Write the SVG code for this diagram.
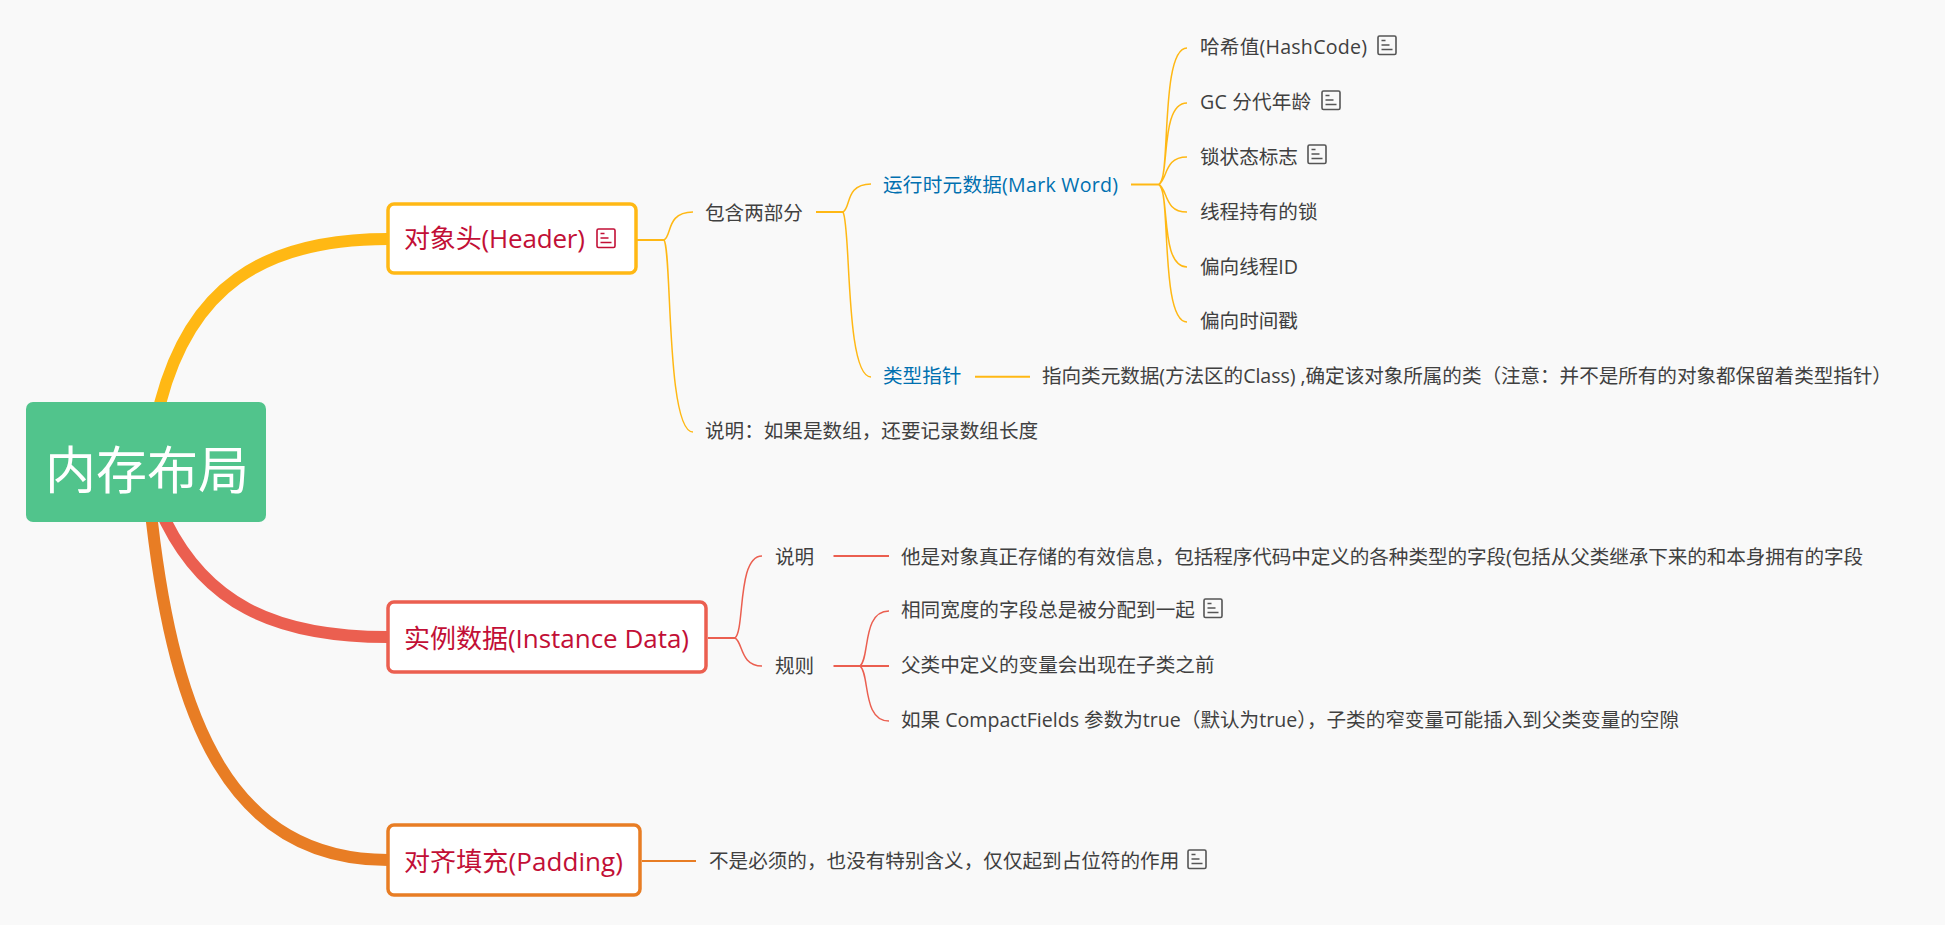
<svg xmlns="http://www.w3.org/2000/svg" width="1945" height="925" viewBox="0 0 1945 925">
<style>
text{font-family:"Open Sans","Noto Sans CJK SC",sans-serif;dominant-baseline:central;fill:#404040;font-size:19.6px}
.main{font-size:26px;fill:#C20F36}
.blue{fill:#0070B0}
.root{font-size:51px;fill:#fff}
.c{fill:none;stroke-linecap:butt}
.y{stroke:#FFB814}.r{stroke:#EB5F50}.o{stroke:#E87D24}
.thin{stroke-width:1.5}.mid{stroke-width:2}.thick{stroke-width:12}
.box{fill:#fff;stroke-width:3.5}
.ic{fill:none;stroke:#555;stroke-width:1.6}
.icr{fill:none;stroke:#C20F36;stroke-width:1.6}
</style>
<defs>
<g id="note"><rect x="1" y="1" width="18" height="18.5" rx="1.5"/><path d="M4.5 5.5h4M4.500 10h8M4.500 14.500h11"/></g>
</defs>
<rect width="1945" height="925" fill="#F9F9F9"/>
<g id="connectors">
<path class="c y thick" d="M158 412L160.500 402C190 290 260 239 388 239"/>
<path class="c r thick" d="M161 512L166 522C205 600 270 637 388 637"/>
<path class="c o thick" d="M151 512L152 522C175 720 230 860 388 860"/>
<path class="c y mid" d="M637 240H664"/>
<path class="c y thin" d="M664 240C672 236 666 212 693 212M664 240C672 250 666 432 693 432"/>
<path class="c y mid" d="M816 212H843"/>
<path class="c y thin" d="M843 212C851 208 845 184 871 184M843 212C851 225 845 377 871 377"/>
<path class="c y mid" d="M1131 184.500H1159"/>
<path class="c y thin" d="M1159 184.500C1171 180 1160 48 1187 48M1159 184.500C1170 175 1160 103 1187 103M1159 184.500C1168 178 1164 157 1187 157M1159 184.500C1168 190 1164 212 1187 212M1159 184.500C1170 195 1160 267 1187 267M1159 184.500C1171 190 1160 322 1187 322"/>
<path class="c y mid" d="M975 376.700H1030"/>
<path class="c r mid" d="M708 638H735"/>
<path class="c r thin" d="M735 638C745 630 737 556 762 556M735 638C743 642 740 666 762 666"/>
<path class="c r mid" d="M833.500 556H889"/>
<path class="c r mid" d="M833.500 666H889"/>
<path class="c r thin" d="M860 666C870 658 862 611 889 611M860 666C870 674 862 721 889 721"/>
<path class="c o mid" d="M642 861H696"/>
</g>
<g id="root"><rect x="26" y="402" width="240" height="120" rx="7" fill="#51C48C"/><text class="root" x="45" y="469" textLength="204">内存布局</text></g>
<g id="header"><rect class="box y" x="388" y="204" width="248" height="69" rx="6"/><text class="main" x="404" y="238" textLength="181">对象头(Header)</text><use href="#note" class="icr" x="596" y="228"/></g>
<g id="instance"><rect class="box r" x="388" y="602" width="318" height="70" rx="6"/><text class="main" x="404" y="638" textLength="285">实例数据(Instance Data)</text></g>
<g id="padding"><rect class="box o" x="388" y="825" width="252" height="70" rx="6"/><text class="main" x="404" y="861" textLength="219">对齐填充(Padding)</text></g>
<g id="n-two"><text x="705" y="212">包含两部分</text></g>
<g id="n-array"><text x="705" y="430">说明：如果是数组，还要记录数组长度</text></g>
<g id="n-mark"><text class="blue" x="883" y="184" textLength="235">运行时元数据(Mark Word)</text></g>
<g id="n-type"><text class="blue" x="883" y="375">类型指针</text></g>
<g id="n-typed"><text x="1042" y="375" letter-spacing="-0.05">指向类元数据(方法区的Class) ,确定该对象所属的类（注意：并不是所有的对象都保留着类型指针）</text></g>
<g id="n-hash"><text x="1200" y="46" textLength="167">哈希值(HashCode)</text><use href="#note" class="ic" x="1377" y="35"/></g>
<g id="n-gc"><text x="1200" y="101" textLength="111">GC 分代年龄</text><use href="#note" class="ic" x="1321" y="90"/></g>
<g id="n-lock"><text x="1200" y="156">锁状态标志</text><use href="#note" class="ic" x="1307" y="144"/></g>
<g id="n-hold"><text x="1200" y="211">线程持有的锁</text></g>
<g id="n-tid"><text x="1200" y="266" textLength="98">偏向线程ID</text></g>
<g id="n-time"><text x="1200" y="320">偏向时间戳</text></g>
<g id="n-desc"><text x="775" y="556">说明</text></g>
<g id="n-descd"><text x="901" y="556" textLength="962">他是对象真正存储的有效信息，包括程序代码中定义的各种类型的字段(包括从父类继承下来的和本身拥有的字段</text></g>
<g id="n-rule"><text x="775" y="665">规则</text></g>
<g id="n-r1"><text x="901" y="609">相同宽度的字段总是被分配到一起</text><use href="#note" class="ic" x="1203" y="598"/></g>
<g id="n-r2"><text x="901" y="664">父类中定义的变量会出现在子类之前</text></g>
<g id="n-r3"><text x="901" y="719" textLength="778">如果 CompactFields 参数为true（默认为true），子类的窄变量可能插入到父类变量的空隙</text></g>
<g id="n-pad"><text x="709" y="860">不是必须的，也没有特别含义，仅仅起到占位符的作用</text><use href="#note" class="ic" x="1187" y="849"/></g>
</svg>
